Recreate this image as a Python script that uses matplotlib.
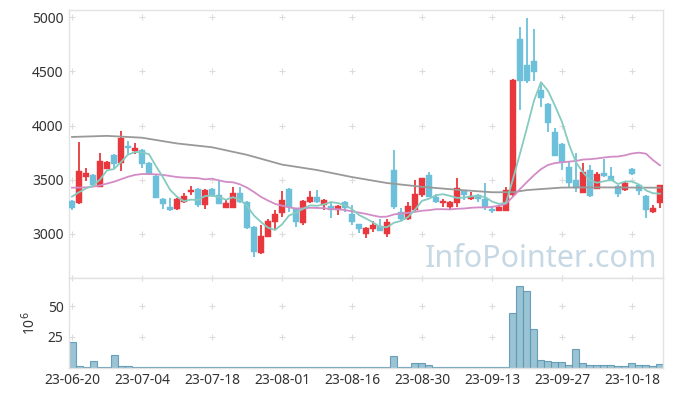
import numpy as np
import pandas as pd
import matplotlib
matplotlib.use("Agg")
import matplotlib.pyplot as plt

plt.rcParams['font.family'] = ['Noto Sans', 'DejaVu Sans']

# daily prices
opens = [3304, 3283, 3529, 3544, 3436, 3603, 3729, 3658, 3812, 3766,
         3775, 3652, 3538, 3323, 3246, 3228, 3292, 3390, 3415, 3263,
         3415, 3360, 3243, 3243, 3381, 3295, 3067, 2822, 2975, 3114,
         3197, 3415, 3237, 3104, 3295, 3341, 3268, 3258, 3221, 3295,
         3184, 3092, 3000, 3046, 3074, 3000, 3590, 3200, 3135, 3221,
         3363, 3544, 3345, 3283, 3249, 3289, 3397, 3320, 3363, 3326,
         3231, 3215, 3215, 3357, 4796, 4559, 4596, 4328, 4199, 3938,
         3830, 3621, 3498, 3381, 3590, 3418, 3566, 3535, 3443, 3406,
         3600, 3449, 3351, 3200, 3283]
closes = [3240, 3581, 3566, 3452, 3673, 3661, 3643, 3888, 3796, 3793,
          3649, 3553, 3335, 3280, 3224, 3323, 3351, 3406, 3263, 3406,
          3346, 3280, 3286, 3378, 3292, 3058, 2837, 2985, 3120, 3184,
          3314, 3246, 3114, 3304, 3341, 3295, 3314, 3218, 3258, 3243,
          3114, 3043, 3055, 3080, 3031, 3107, 3246, 3138, 3258, 3369,
          3517, 3345, 3298, 3304, 3295, 3421, 3360, 3351, 3326, 3246,
          3215, 3249, 3406, 4421, 4415, 4411, 4498, 4258, 4021, 3722,
          3667, 3468, 3421, 3569, 3351, 3553, 3538, 3492, 3369, 3470,
          3551, 3400, 3221, 3237, 3452]
highs = [3310, 3846, 3606, 3550, 3744, 3676, 3735, 3953, 3861, 3843,
         3780, 3661, 3540, 3330, 3332, 3330, 3378, 3443, 3420, 3415,
         3425, 3498, 3314, 3431, 3434, 3300, 3070, 3081, 3138, 3221,
         3397, 3420, 3240, 3314, 3397, 3406, 3323, 3298, 3267, 3300,
         3267, 3095, 3060, 3120, 3138, 3138, 3775, 3240, 3295, 3498,
         3520, 3572, 3369, 3323, 3300, 3514, 3400, 3388, 3368, 3474,
         3252, 3268, 3431, 4425, 4913, 4990, 4889, 4406, 4205, 3979,
         3835, 3667, 3750, 3655, 3633, 3575, 3689, 3615, 3448, 3483,
         3605, 3461, 3355, 3267, 3455]
lows = [3221, 3275, 3492, 3445, 3430, 3598, 3606, 3584, 3738, 3741,
        3606, 3545, 3330, 3228, 3215, 3220, 3285, 3360, 3245, 3228,
        3340, 3275, 3238, 3238, 3285, 3050, 2788, 2815, 2970, 3043,
        3157, 3203, 3067, 3086, 3290, 3290, 3221, 3148, 3175, 3203,
        3083, 3006, 2960, 3018, 3025, 2975, 3228, 3120, 3130, 3215,
        3345, 3340, 3290, 3246, 3221, 3246, 3314, 3315, 3298, 3224,
        3191, 3210, 3210, 3345, 4144, 4396, 4415, 4175, 3941, 3715,
        3590, 3437, 3391, 3375, 3345, 3412, 3530, 3488, 3341, 3400,
        3544, 3360, 3145, 3195, 3237]
# volume in millions
volume = [20.4, 1.6, 0.5, 5.2, 0.8, 0.8, 10.6, 1.6, 1.1, 0.8,
          0.8, 0.8, 0.8, 0.1, 0.1, 0.1, 0.1, 0.1, 0.1, 0.1,
          0.1, 0.4, 0.1, 0.4, 0.4, 0.4, 0.4, 0.1, 0.1, 0.1,
          0.4, 0.1, 0.1, 0.1, 0.1, 0.1, 0.1, 0.1, 0.1, 0.1,
          0.1, 0.1, 0.1, 0.1, 0.1, 0.5, 9.2, 0.5, 0.5, 3.3,
          3.3, 1.9, 0.1, 0.1, 0.1, 0.5, 0.5, 0.1, 0.1, 0.5,
          0.1, 0.1, 0.4, 44.8, 66.3, 62.2, 31.0, 6.0, 5.2, 4.3,
          4.3, 1.9, 15.0, 3.5, 1.9, 2.4, 2.4, 1.9, 1.1, 1.1,
          3.5, 1.9, 1.9, 1.1, 2.7]

# moving averages that need history before the window
ma5_start = [3345, 3385, 3420, 3445]
ma20_start = [3427, 3428, 3430, 3437, 3448, 3465, 3482, 3505, 3528, 3545,
              3553, 3553, 3550, 3545, 3535, 3525, 3520, 3518, 3515]
ma60_idx = [0, 5, 10, 15, 20, 25, 30, 35, 40, 45, 50, 55, 60, 63, 65, 70, 75, 80, 84]
ma60_val = [3895, 3905, 3888, 3835, 3800, 3730, 3640, 3590, 3525, 3470,
            3435, 3408, 3385, 3385, 3405, 3428, 3430, 3428, 3427]

tick_pos = [0, 10, 20, 30, 40, 50, 60, 70, 80]
tick_labels = ['23-06-20', '23-07-04', '23-07-18', '23-08-01', '23-08-16',
               '23-08-30', '23-09-13', '23-09-27', '23-10-18']

x = np.arange(len(closes))
cl = pd.Series(closes)
ma5 = cl.rolling(5).mean().values
ma5[:4] = ma5_start
ma20 = cl.rolling(20).mean().values
ma20[:19] = ma20_start

up_c = '#e8383d'
dn_c = '#6cc0d9'
grid_c = '#dcdcdc'

fig = plt.figure(figsize=(6.73, 3.96), dpi=100)
ax = fig.add_axes([69/673, 1-278/396, 594/673, 268/396])
axv = fig.add_axes([69/673, 1-367.5/396, 594/673, 89.5/396], sharex=ax)

# grid as small crosses
for a, ys in ((ax, [3000, 3500, 4000, 4500, 5000]), (axv, [25, 50, 73])):
    gx, gy = np.meshgrid(tick_pos, ys)
    a.scatter(gx.ravel(), gy.ravel(), marker='+', s=18, c=grid_c, lw=0.8, zorder=0, clip_on=False)

# candles
for i in x:
    o, c = opens[i], closes[i]
    col = up_c if c >= o else dn_c
    ax.vlines(i, lows[i], highs[i], color=col, lw=1.3, zorder=2)
    ax.bar(i, abs(c - o) if abs(c - o) > 8 else 8, bottom=min(o, c), width=0.72,
           color=col, edgecolor=col, lw=0.3, zorder=3)

ax.plot(ma60_idx, ma60_val, color='#999999', lw=1.3, zorder=4)
ax.plot(x, ma20, color='#d28cc6', lw=1.3, zorder=4)
ax.plot(x, ma5, color='#86cbc0', lw=1.3, zorder=4)

ax.text(0.99, 0.015, 'InfoPointer.com', transform=ax.transAxes, ha='right', va='bottom',
        fontsize=22, color='#c5d8e4', zorder=1)

ax.set_xlim(-0.43, 84.43)
ax.set_ylim(2594, 5066)
ax.set_yticks([3000, 3500, 4000, 4500, 5000])
ax.tick_params(axis='y', length=0, labelsize=10, labelcolor='#333333', pad=4)
ax.tick_params(axis='x', length=0, labelbottom=False)

axv.bar(x, volume, width=1.0, color='#8fbdd0', edgecolor='#5e98b3', lw=0.8, alpha=0.9, zorder=2)
axv.set_ylim(0, 73)
axv.set_yticks([25, 50])
axv.set_xticks(tick_pos)
axv.set_xticklabels(tick_labels)
axv.tick_params(length=0, labelsize=10, labelcolor='#333333', pad=4)
axv.set_ylabel('10$^6$', fontsize=10, color='#333333', labelpad=6)

for a in (ax, axv):
    for s in a.spines.values():
        s.set_color('#e2e2e2')
        s.set_linewidth(1)

fig.savefig('out.png', dpi=100)
